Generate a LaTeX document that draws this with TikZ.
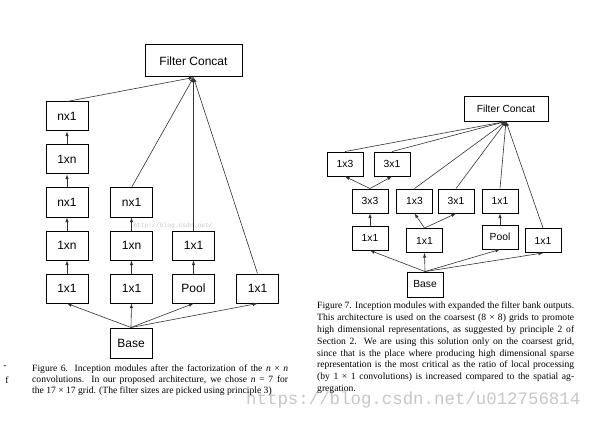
\documentclass[tikz,border=0pt]{standalone}
\usepackage{amsmath}
\usepackage{fontspec}
\setmainfont{Liberation Serif}
\newfontfamily\arial{Liberation Sans}
\newfontfamily\mono{Liberation Mono}
\usepackage{tikz}

\begin{document}
\begin{tikzpicture}[x=1pt, y=-1pt, main/.style={draw, rectangle, minimum width=42pt, minimum height=29pt, inner sep=0pt, line width=1pt, font=\arial\fontsize{12}{14}\selectfont}, sub/.style={draw, rectangle, minimum width=36pt, minimum height=24pt, inner sep=0pt, line width=0.9pt, font=\arial\fontsize{10.3}{12}\selectfont}, info/.style={anchor=north west, inner sep=0pt, text width=257pt, align=justify, font=\fontsize{9.6}{11.8}\selectfont}, n/.style={-latex, line width=0.6pt, black!80}, wm/.style={inner sep=0pt, text=black!22}]
            \useasboundingbox[fill=white] (0,0) rectangle (594,422);
            % watermarks
            \node[wm, anchor=west, font=\mono\fontsize{17.4}{18}\selectfont] (wmark) at (246,400) {https://blog.csdn.net/u012756814};
            \node[wm, font=\mono\fontsize{6.3}{7}\selectfont] (wsmall) at (173,226) {http://blog.csdn.net/};
            % nodes, figure 6
            \node[main, minimum width=97pt, minimum height=32pt] (concatL) at (193.5,61) {Filter Concat};
            \node[main] (la5) at (67,116.5) {nx1};
            \node[main] (la4) at (67,159.5) {1xn};
            \node[main] (la3) at (67,202.5) {nx1};
            \node[main] (la2) at (67,245.5) {1xn};
            \node[main] (la1) at (67,288.5) {1x1};
            \node[main] (lb3) at (131.5,202.5) {nx1};
            \node[main] (lb2) at (131.5,245.5) {1xn};
            \node[main] (lb1) at (131.5,288.5) {1x1};
            \node[main] (lc2) at (193.5,245.5) {1x1};
            \node[main] (lc1) at (193.5,288.5) {Pool};
            \node[main] (ld1) at (257.5,288.5) {1x1};
            \node[main, minimum height=30pt] (baseL) at (131,343) {Base};
            % edges, figure 6
            \draw [->, n] (baseL.north) -- (la1.south);
            \draw [->, n] (baseL.north) -- (lb1.south);
            \draw [->, n] (baseL.north) -- (lc1.south);
            \draw [->, n] (baseL.north) -- (ld1.south);
            \draw [->, n] (la1) -- (la2);
            \draw [->, n] (la2) -- (la3);
            \draw [->, n] (la3) -- (la4);
            \draw [->, n] (la4) -- (la5);
            \draw [->, n] (lb1) -- (lb2);
            \draw [->, n] (lb2) -- (lb3);
            \draw [->, n] (lc1) -- (lc2);
            \draw [->, n] (la5.north) -- (concatL.south);
            \draw [->, n] (lb3.north) -- (concatL.south);
            \draw [->, n] (lc2.north) -- (concatL.south);
            \draw [->, n] (ld1.north) -- (concatL.south);
            % nodes, figure 7
            \node[sub, minimum width=84pt, minimum height=25pt] (concatR) at (506,108.5) {Filter Concat};
            \node[sub] (ra3) at (345,164) {1x3};
            \node[sub] (ra4) at (392,164) {3x1};
            \node[sub] (ra2) at (370,201) {3x3};
            \node[sub] (ra1) at (370,238) {1x1};
            \node[sub] (rb2) at (414.5,201) {1x3};
            \node[sub] (rb3) at (456,201) {3x1};
            \node[sub] (rb1) at (424.5,240.5) {1x1};
            \node[sub] (rc2) at (500,201) {1x1};
            \node[sub] (rc1) at (500,237) {Pool};
            \node[sub] (rd1) at (543,240.5) {1x1};
            \node[sub, minimum height=25pt] (baseR) at (425,284.5) {Base};
            % edges, figure 7
            \draw [->, n] (baseR.north) -- (ra1.south);
            \draw [->, n] (baseR.north) -- (rb1.south);
            \draw [->, n] (baseR.north) -- (rc1.south);
            \draw [->, n] (baseR.north) -- (rd1.south);
            \draw [->, n] (ra1) -- (ra2);
            \draw [->, n] (ra2.north) -- (ra3.south);
            \draw [->, n] (ra2.north) -- (ra4.south);
            \draw [->, n] (rb1.north) -- (rb2.south);
            \draw [->, n] (rb1.north) -- (rb3.south);
            \draw [->, n] (rc1) -- (rc2);
            \draw [->, n] (ra3.north) -- (concatR.south);
            \draw [->, n] (ra4.north) -- (concatR.south);
            \draw [->, n] (rb2.north) -- (concatR.south);
            \draw [->, n] (rb3.north) -- (concatR.south);
            \draw [->, n] (rc2.north) -- (concatR.south);
            \draw [->, n] (rd1.north) -- (concatR.south);
            % captions
            \node[info, text width=256pt, font=\fontsize{9.6}{11}\selectfont] (capL) at (32,365) {Figure 6. Inception modules after the factorization of the \textit{n}~×~\textit{n}\linebreak convolutions. In our proposed architecture, we chose \textit{n}~=~7 for\linebreak the 17~×~17 grid. (The filter sizes are picked using principle 3)};
            \node[info] (capR) at (317,302) {Figure 7. Inception modules with expanded the filter bank outputs.\linebreak This architecture is used on the coarsest (8~×~8) grids to promote\linebreak high dimensional representations, as suggested by principle 2 of\linebreak Section 2. We are using this solution only on the coarsest grid,\linebreak since that is the place where producing high dimensional sparse\linebreak representation is the most critical as the ratio of local processing\linebreak (by 1~×~1 convolutions) is increased compared to the spatial ag-\linebreak gregation.};
            \node[inner sep=0pt, font=\fontsize{9.6}{11}\selectfont] (cutA) at (5,367) {-};
            \node[inner sep=0pt, font=\fontsize{9.6}{11}\selectfont] (cutB) at (7,380) {f};
        \end{tikzpicture}
\end{document}
